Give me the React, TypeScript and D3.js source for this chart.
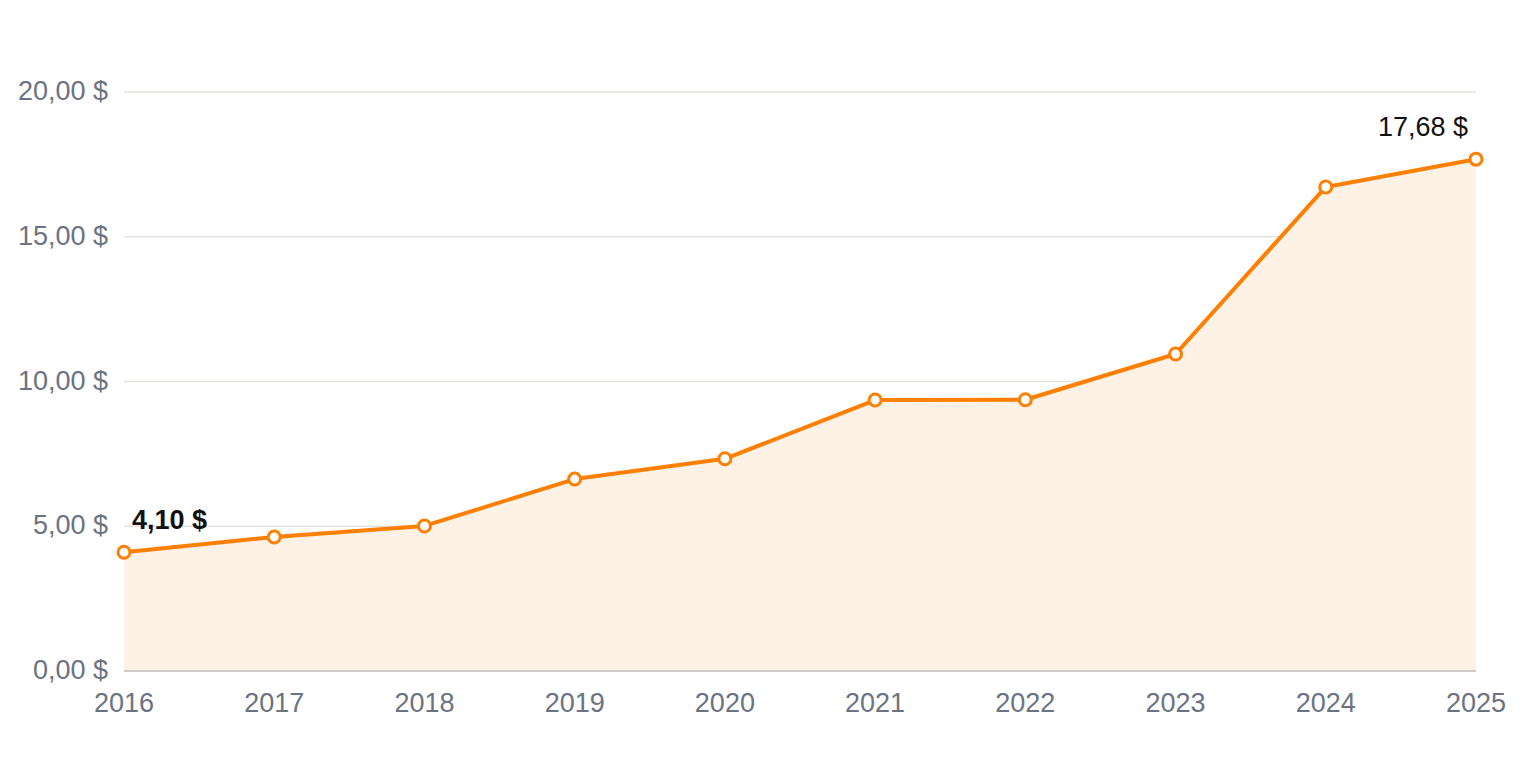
import React, { useEffect, useRef } from "react";
import * as d3 from "d3";

const years = ["2016", "2017", "2018", "2019", "2020", "2021", "2022", "2023", "2024", "2025"];
const prices = [4.1, 4.63, 5.01, 6.63, 7.33, 9.36, 9.37, 10.95, 16.72, 17.68];
const yTicks = [0, 5, 10, 15, 20];

const W = 1520;
const H = 760;
const margin = { top: 92, right: 44, bottom: 89, left: 124 };
const FONT = "'Liberation Sans', Arial, sans-serif";
const ORANGE = "#ff7f00";

const fmt = (v: number) => d3.format(".2f")(v).replace(".", ",") + " $";

const App: React.FC = () => {
  const svgRef = useRef<SVGSVGElement | null>(null);

  useEffect(() => {
    if (!svgRef.current) return;
    const svg = d3.select(svgRef.current);
    svg.selectAll("*").remove();

    const x = d3
      .scalePoint<string>()
      .domain(years)
      .range([margin.left, W - margin.right]);
    const y = d3
      .scaleLinear()
      .domain([0, 20])
      .range([H - margin.bottom, margin.top]);

    // grid
    svg
      .append("g")
      .selectAll("line")
      .data(yTicks.filter((t) => t > 0))
      .enter()
      .append("line")
      .attr("x1", margin.left)
      .attr("x2", W - margin.right)
      .attr("y1", (d) => y(d))
      .attr("y2", (d) => y(d))
      .attr("stroke", "#e4e3df")
      .attr("stroke-width", 1.5);

    // area
    const data = years.map((yr, i) => ({ yr, v: prices[i] }));
    svg
      .append("path")
      .datum(data)
      .attr("fill", "#fef1e5")
      .attr(
        "d",
        d3
          .area<{ yr: string; v: number }>()
          .x((d) => x(d.yr)!)
          .y0(y(0))
          .y1((d) => y(d.v))
      );

    // baseline
    svg
      .append("line")
      .attr("x1", margin.left)
      .attr("x2", W - margin.right)
      .attr("y1", y(0))
      .attr("y2", y(0))
      .attr("stroke", "#cfcbc6")
      .attr("stroke-width", 2);

    // y labels
    svg
      .append("g")
      .selectAll("text")
      .data(yTicks)
      .enter()
      .append("text")
      .attr("x", 108)
      .attr("y", (d) => y(d))
      .attr("dy", "0.3em")
      .attr("text-anchor", "end")
      .style("font-family", FONT)
      .style("font-size", "27px")
      .style("fill", "#6b7382")
      .text((d) => fmt(d));

    // x labels
    svg
      .append("g")
      .selectAll("text")
      .data(years)
      .enter()
      .append("text")
      .attr("x", (d) => x(d)!)
      .attr("y", y(0) + 41)
      .attr("text-anchor", "middle")
      .style("font-family", FONT)
      .style("font-size", "27px")
      .style("fill", "#6b7382")
      .text((d) => d);

    // line
    svg
      .append("path")
      .datum(data)
      .attr("fill", "none")
      .attr("stroke", ORANGE)
      .attr("stroke-width", 4)
      .attr("stroke-linejoin", "round")
      .attr(
        "d",
        d3
          .line<{ yr: string; v: number }>()
          .x((d) => x(d.yr)!)
          .y((d) => y(d.v))
      );

    // markers
    svg
      .append("g")
      .selectAll("circle")
      .data(data)
      .enter()
      .append("circle")
      .attr("cx", (d) => x(d.yr)!)
      .attr("cy", (d) => y(d.v))
      .attr("r", 6)
      .attr("fill", "#fff")
      .attr("stroke", ORANGE)
      .attr("stroke-width", 3);

    // end labels
    const first = data[0];
    const last = data[data.length - 1];
    svg
      .append("text")
      .attr("x", x(first.yr)! + 8)
      .attr("y", y(first.v) - 23)
      .style("font-family", FONT)
      .style("font-size", "27px")
      .style("font-weight", 600)
      .style("fill", "#111")
      .text(fmt(first.v));
    svg
      .append("text")
      .attr("x", x(last.yr)! - 8)
      .attr("y", y(last.v) - 23)
      .attr("text-anchor", "end")
      .style("font-family", FONT)
      .style("font-size", "27px")
      .style("fill", "#111")
      .text(fmt(last.v));
  }, []);

  return (
    <div style={{ position: "absolute", left: 0, top: 0, width: W, height: H, background: "#fff" }}>
      <svg ref={svgRef} width={W} height={H}></svg>
    </div>
  );
};

export default App;
